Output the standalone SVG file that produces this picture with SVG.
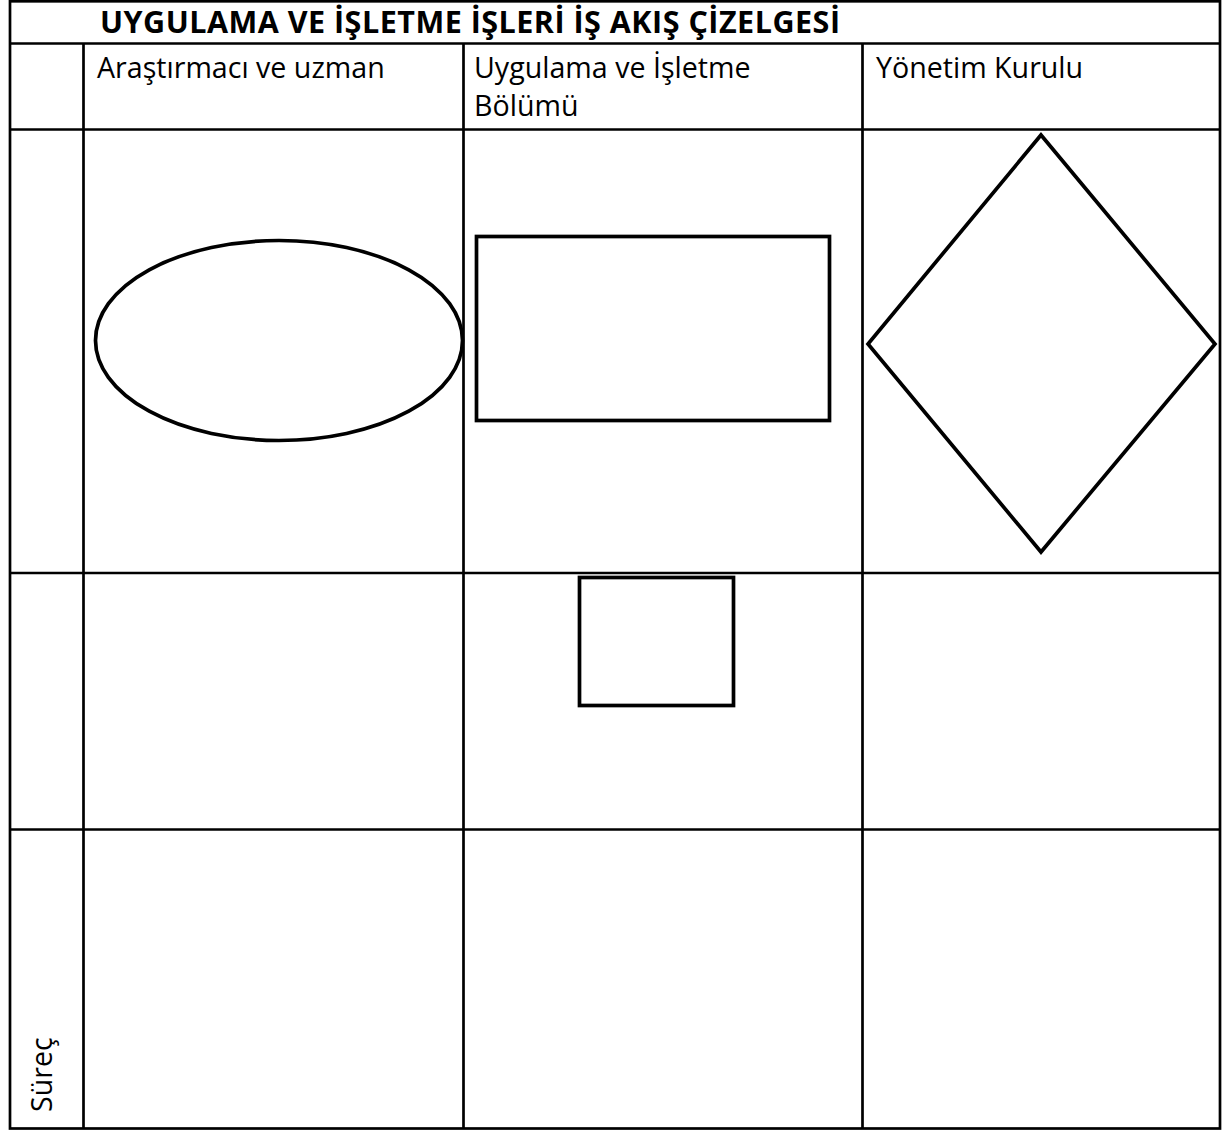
<svg xmlns="http://www.w3.org/2000/svg" width="1226" height="1131" viewBox="0 0 1226 1131">
<style>
.grid{stroke:#000;stroke-width:2.7;fill:none}
.shape{stroke:#000;stroke-width:3.7;fill:#fff}
.t{font-family:"Open Sans","Noto Sans","DejaVu Sans",sans-serif;font-size:28.6px;fill:#000}
.title{font-family:"Open Sans","Noto Sans","DejaVu Sans",sans-serif;font-size:30.5px;font-weight:bold;fill:#000}
</style>
<rect width="1226" height="1131" fill="#fff"/>
<g id="table">
<rect class="grid" x="10" y="1.3" width="1210" height="1127.2"/>
<line class="grid" x1="10" y1="43.5" x2="1220" y2="43.5"/>
<line class="grid" x1="10" y1="129.5" x2="1220" y2="129.5"/>
<line class="grid" x1="10" y1="573" x2="1220" y2="573"/>
<line class="grid" x1="10" y1="829.5" x2="1220" y2="829.5"/>
<line class="grid" x1="83.5" y1="43.5" x2="83.5" y2="1128.5"/>
<line class="grid" x1="463.5" y1="43.5" x2="463.5" y2="1128.5"/>
<line class="grid" x1="862.5" y1="43.5" x2="862.5" y2="1128.5"/>
</g>
<g id="labels">
<text class="title" x="100" y="33" textLength="740">UYGULAMA VE İŞLETME İŞLERİ İŞ AKIŞ ÇİZELGESİ</text>
<text class="t" x="97" y="78">Araştırmacı ve uzman</text>
<text class="t" x="474" y="78">Uygulama ve İşletme</text>
<text class="t" x="474" y="116">Bölümü</text>
<text class="t" x="876" y="78">Yönetim Kurulu</text>
<text class="t" transform="translate(52,1112) rotate(-90)">Süreç</text>
</g>
<g id="node-ellipse"><ellipse class="shape" cx="279" cy="340.5" rx="183.5" ry="100"/></g>
<g id="node-rect"><rect class="shape" x="476.5" y="236.5" width="353" height="184"/></g>
<g id="node-diamond"><polygon class="shape" points="1041,135 1215,344 1041,552 868,344"/></g>
<g id="node-small-rect"><rect class="shape" x="579.5" y="577.5" width="154" height="128" stroke-width="3.8"/></g>
<g id="connectors"></g>
</svg>
